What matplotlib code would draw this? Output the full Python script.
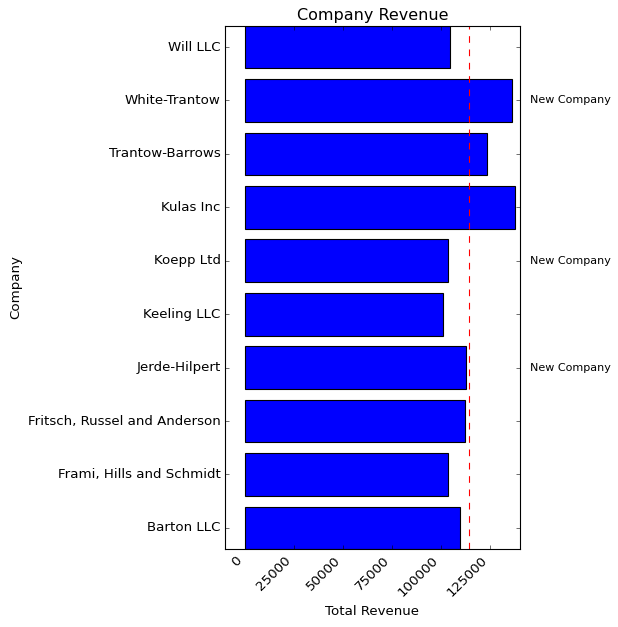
import matplotlib
matplotlib.use("Agg")
import matplotlib.pyplot as plt

plt.style.use("classic")

companies = ["Barton LLC", "Frami, Hills and Schmidt", "Fritsch, Russel and Anderson",
             "Jerde-Hilpert", "Keeling LLC", "Koepp Ltd", "Kulas Inc",
             "Trantow-Barrows", "White-Trantow", "Will LLC"]
revenue = [109438.50, 103569.59, 112214.71, 112591.43, 100934.30,
           103660.54, 137351.96, 123381.38, 135841.99, 104437.60]
new_companies = [3, 5, 8]

avg = sum(revenue) / len(revenue)

# reference was rendered at 80 dpi
fig = plt.figure(figsize=(618 / 80, 627 / 80), dpi=80)
ax = fig.add_axes([0.364, 0.124, 0.477, 0.835])
ax.barh(companies, revenue)
ax.set_xlim(-10000, 140000)
ax.set_ylim(-0.4, 9.4)
ax.axvline(x=avg, color="r", linestyle="--", linewidth=1)

for cust in new_companies:
    ax.text(145000, cust, "New Company", fontsize=10, va="center")

ax.set_xticks([0, 25000, 50000, 75000, 100000, 125000])
plt.setp(ax.get_xticklabels(), rotation=45, horizontalalignment="right")
ax.set(title="Company Revenue", xlabel="Total Revenue", ylabel="Company")

fig.savefig("out.png", dpi=80)
